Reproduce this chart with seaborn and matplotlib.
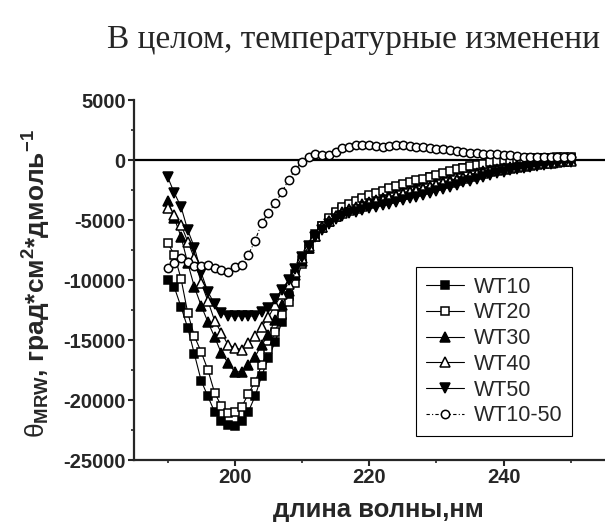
import numpy as np
import pandas as pd
import matplotlib
matplotlib.use("Agg")
import matplotlib.pyplot as plt
import seaborn as sns

wavelength = list(range(190, 251))

wt10 = [-10000, -10600, -12250, -14000, -16200, -18400, -19700, -21000, -21750, -22100,
        -22150, -21750, -21000, -19700, -18000, -16500, -15150, -13500, -11300, -9500,
        -8300, -7200, -6200, -5500, -4900, -4400, -4050, -3800, -3550, -3300,
        -3050, -2850, -2650, -2450, -2250, -2100, -1950, -1800, -1650, -1450,
        -1300, -1150, -1000, -850, -700, -600, -500, -350, -250, -150,
        -50, 0, 50, 80, 100, 120, 150, 170, 180, 200, 200]

wt20 = [-6900, -7900, -9900, -12750, -14700, -16000, -17500, -19400, -20500, -21100,
        -21000, -20600, -19500, -18500, -17100, -15750, -14300, -12900, -11800, -10250,
        -8700, -7400, -6300, -5500, -4850, -4300, -3950, -3700, -3450, -3200,
        -2950, -2750, -2550, -2350, -2150, -2000, -1850, -1700, -1550, -1380,
        -1230, -1080, -930, -780, -640, -530, -420, -300, -200, -100,
        -20, 40, 90, 120, 140, 160, 180, 200, 210, 220, 230]

wt30 = [-3400, -4850, -6400, -8600, -10600, -12150, -13500, -14750, -16100, -16900,
        -17650, -17650, -17100, -16400, -15400, -14600, -13300, -12100, -10900, -9600,
        -8400, -7300, -6300, -5600, -5050, -4650, -4350, -4100, -3900, -3700,
        -3500, -3350, -3200, -3050, -2900, -2750, -2600, -2450, -2300, -2150,
        -2000, -1850, -1700, -1550, -1400, -1250, -1100, -950, -850, -750,
        -650, -550, -450, -380, -300, -250, -200, -150, -100, -60, -30]

wt40 = [-4000, -4600, -5400, -6800, -8200, -10250, -11750, -13400, -14400, -15400,
        -15650, -15800, -15250, -14650, -13900, -13100, -12100, -11200, -10300, -9300,
        -8200, -7200, -6300, -5600, -5100, -4700, -4450, -4200, -4000, -3800,
        -3600, -3450, -3300, -3150, -3000, -2850, -2700, -2550, -2400, -2250,
        -2100, -1950, -1800, -1650, -1500, -1350, -1200, -1050, -950, -850,
        -750, -650, -550, -470, -400, -330, -270, -210, -150, -110, -70]

wt50 = [-1400, -2750, -3900, -5850, -7300, -9400, -11000, -12000, -12750, -13000,
        -13000, -13000, -13000, -13000, -12650, -12350, -11600, -10800, -10000, -9100,
        -8100, -7200, -6400, -5800, -5300, -4900, -4650, -4450, -4300, -4150,
        -4000, -3880, -3760, -3630, -3500, -3350, -3200, -3050, -2900, -2750,
        -2580, -2400, -2230, -2050, -1870, -1720, -1570, -1420, -1260, -1100,
        -980, -870, -770, -670, -580, -480, -400, -320, -250, -200, -170]

wt10_50 = [-9000, -8600, -8150, -8500, -8850, -8850, -8750, -9000, -9150, -9300,
           -8900, -8750, -7900, -6750, -5250, -4400, -3600, -2700, -1650, -800,
           -150, 250, 500, 400, 400, 650, 1000, 1100, 1250, 1250,
           1250, 1150, 1100, 1150, 1250, 1250, 1150, 1100, 1050, 1000,
           950, 880, 800, 720, 650, 600, 560, 530, 510, 500,
           450, 380, 330, 290, 250, 250, 250, 250, 250, 250, 250]

series_names = ["WT10", "WT20", "WT30", "WT40", "WT50", "WT10-50"]
series_values = [wt10, wt20, wt30, wt40, wt50, wt10_50]

x_ticks = [200, 220, 240]
y_ticks = [5000, 0, -5000, -10000, -15000, -20000, -25000]

header_text = "В целом, температурные изменени"
x_label = "длина волны,нм"

sns.set_style("ticks")
plt.rcParams["font.family"] = ["Liberation Sans", "DejaVu Sans"]
plt.rcParams["mathtext.fontset"] = "custom"
plt.rcParams["mathtext.rm"] = "Liberation Sans"
plt.rcParams["mathtext.bf"] = "Liberation Sans:bold"
plt.rcParams["mathtext.it"] = "Liberation Sans:italic"
plt.rcParams["axes.unicode_minus"] = False

df = pd.DataFrame({"wavelength": wavelength})
for name, vals in zip(series_names, series_values):
    df[name] = vals

fig = plt.figure(figsize=(6.05, 5.22), dpi=100)
ax = fig.add_axes([134 / 605, 62 / 522, 504 / 605, 360 / 522])

styles = {
    "WT10": dict(marker="s", mfc="black", ms=5.5, ls="-"),
    "WT20": dict(marker="s", mfc="white", ms=5.5, ls="-"),
    "WT30": dict(marker="^", mfc="black", ms=6.5, ls="-"),
    "WT40": dict(marker="^", mfc="white", ms=6.5, ls="-"),
    "WT50": dict(marker="v", mfc="black", ms=6.5, ls="-"),
    "WT10-50": dict(marker="o", mfc="white", ms=6.0, ls=(0, (3, 2, 1, 2))),
}

for name in series_names:
    st = styles[name]
    sns.lineplot(data=df, x="wavelength", y=name, ax=ax, color="black",
                 linewidth=0.8, linestyle=st["ls"], marker=st["marker"],
                 markersize=st["ms"], markerfacecolor=st["mfc"],
                 markeredgecolor="black", markeredgewidth=1.1, label=name)

ax.axhline(0, color="black", linewidth=1.6, zorder=1)

ax.set_xlim(185, 260)
ax.set_ylim(-25000, 5000)
ax.set_xticks(x_ticks)
ax.set_xticks([190, 210, 230, 250], minor=True)
ax.set_yticks(y_ticks)
ax.set_yticks([2500, -2500, -7500, -12500, -17500, -22500], minor=True)
ax.set_yticklabels([str(v) for v in y_ticks])
for lab in ax.get_xticklabels() + ax.get_yticklabels():
    lab.set_fontweight("bold")
    lab.set_fontsize(14.5)
ax.tick_params(axis="both", which="major", direction="out", length=4, width=1.5, pad=2)
ax.tick_params(axis="both", which="minor", direction="out", length=2.5, width=1.2)

for side in ["top", "right"]:
    ax.spines[side].set_visible(False)
for side in ["left", "bottom"]:
    ax.spines[side].set_linewidth(1.6)

ax.set_xlabel(x_label, fontsize=18.5, fontweight="bold")
ax.xaxis.set_label_coords((378 - 134) / 504, -0.105)
ax.set_ylabel(r"$\mathrm{\theta}_{\mathbf{MRW}}$, град*см$^{\mathbf{2}}$*дмоль$^{\mathbf{-1}}$",
              fontsize=19, fontweight="bold")
ax.yaxis.set_label_coords((53 - 134) / 504, 0.49)

h, l = ax.get_legend_handles_labels()
leg = ax.legend(h, l, loc="upper left", bbox_to_anchor=(416 / 605, 1 - 267 / 522),
                bbox_transform=fig.transFigure, fontsize=15.5, frameon=True,
                fancybox=False, edgecolor="black", framealpha=1,
                handlelength=1.8, handletextpad=0.42, borderpad=0.45,
                labelspacing=0.22, borderaxespad=0)
leg.get_frame().set_linewidth(0.8)

fig.text(107 / 605, 1 - 48 / 522, header_text, fontsize=24,
         family=["Liberation Serif", "DejaVu Serif"], ha="left", va="baseline")

fig.savefig("out.png", dpi=100)
